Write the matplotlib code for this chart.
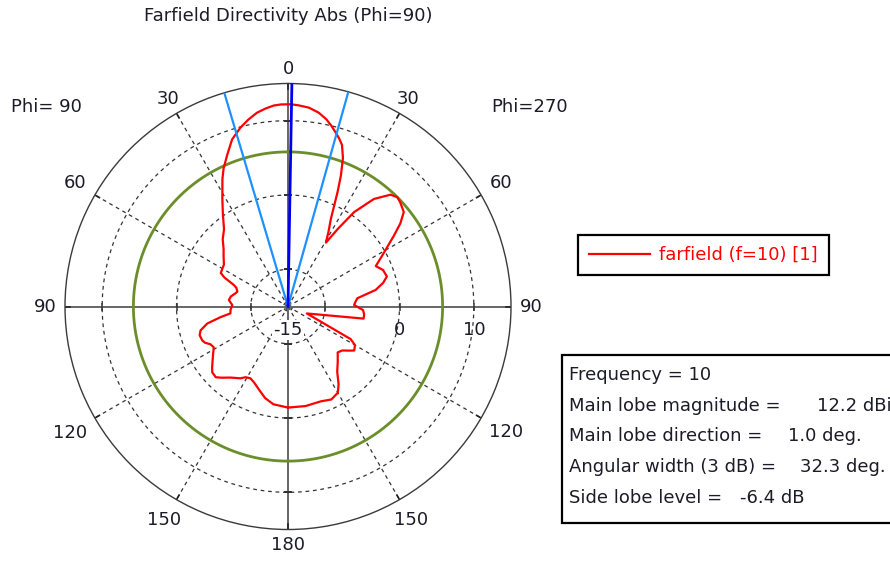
import numpy as np
import matplotlib
matplotlib.use("Agg")
import matplotlib.pyplot as plt
from matplotlib.lines import Line2D
from matplotlib.patches import Rectangle

# farfield cut, theta in degrees (negative = Phi=90 side, positive = Phi=270 side)
theta_deg = [
    -180, -171.5, -166, -161.8, -156, -152.3, -149, -146.4, -141, -137,
    -134.4, -131, -128.8, -124, -118.8, -116, -113.5, -111.6, -108, -105.3,
    -101.9, -99, -96.8, -93.5, -88.5, -83.7, -80, -76, -73.6, -70,
    -68.2, -65.5, -63.5, -60, -56.8, -52, -48.3, -44.2, -39.6, -35.2,
    -31.3, -27.2, -25, -21.8, -18.5, -14.9, -12, -9.1, -6.5, -4.1,
    -2, 0, 1, 3, 6, 9, 11.6, 13.5, 15.5, 17,
    18.5, 20.3, 22, 23.4, 26.1, 28.5, 30.7, 32.7, 35, 38.6,
    42.5, 45, 47.1, 50.8, 53.5, 56.3, 60.7, 65.3, 69, 73.1,
    76, 79.3, 83.2, 86, 88.7, 92.7, 96, 99.1, 110.3, 117.5,
    120, 123.6, 126, 129, 132.7, 138, 143, 147, 150, 155,
    161, 170, 180,
]
directivity_dbi = [
    -1.4, -1.7, -2.3, -3.0, -3.8, -4.1, -3.9, -3.4, -2.7, -1.9,
    -1.4, -1.5, -1.9, -2.8, -3.6, -3.4, -2.8, -2.6, -2.5, -2.8,
    -3.9, -5.8, -7.2, -7.25, -7.5, -7.0, -7.2, -7.7, -7.9, -7.6,
    -7.1, -5.6, -4.9, -4.8, -4.7, -4.0, -3.4, -2.4, -1.5, 0.2,
    2.0, 4.3, 5.5, 7.0, 8.7, 9.9, 10.7, 11.4, 11.8, 12.1,
    12.2, 12.2, 12.2, 12.1, 11.9, 11.4, 10.7, 10.0, 9.2, 8.6,
    7.9, 6.3, 4.0, 1.8, -1.9, -3.6, -5.0, -2.6, 0.5, 3.5,
    5.4, 5.8, 5.6, 5.1, 3.8, 2.1, -0.2, -2.0, -1.3, -1.1,
    -1.8, -3.0, -5.6, -5.9, -6.1, -4.9, -4.7, -4.7, -12.3, -5.5,
    -4.6, -4.3, -4.9, -5.6, -5.9, -5.0, -4.0, -2.5, -1.6, -1.2,
    -1.5, -1.4, -1.4,
]

frequency = 10
main_lobe_dbi = 12.2
main_lobe_dir = 1.0
angular_width = 32.3
side_lobe_level = -6.4
beam_left = -16.6
beam_edges = [beam_left, beam_left + angular_width]

r_min, r_max = -15, 15
grid_rings = [-10, 0, 10]
ring_labels = [-15, 0, 10]
theta_ticks = list(range(0, 360, 30))
theta_labels = [str(t if t <= 180 else 360 - t) for t in theta_ticks]
# distance of each angle label from the centre, in pixels
label_dist = [238, 240, 246, 243, 252, 247, 238, 247, 252, 243, 246, 240]

plt.rcParams['font.family'] = ['DejaVu Sans']
txt_col = '#1c1c28'
fs = 13

fig = plt.figure(figsize=(8.9, 5.62), dpi=100)
cx, cy, rad = 288, 306.5, 223
ax = fig.add_axes([(cx - rad) / 890, (562 - cy - rad) / 562, 2 * rad / 890, 2 * rad / 562],
                  projection='polar')
ax.set_theta_zero_location('N')
ax.set_theta_direction(-1)
ax.set_ylim(r_min, r_max)
ax.grid(False)
ax.set_yticks([])
ax.set_xticks([])
ax.spines['polar'].set_color('#3a3a3a')
ax.spines['polar'].set_linewidth(1.0)
px_per_db = rad / (r_max - r_min)

for t, lab, d in zip(theta_ticks, theta_labels, label_dist):
    ax.text(np.deg2rad(t), r_min + d / px_per_db, lab, ha='center', va='center',
            fontsize=fs, color=txt_col, clip_on=False)

full = np.linspace(0, 2 * np.pi, 721)
dash = (0, (3, 3))
# dashed rings
for ring in grid_rings + [-14.4]:
    ax.plot(full, np.full_like(full, ring), ls=dash, color='#333333', lw=0.9, zorder=1)

# radial dashed spokes and solid axes
for t in [30, 60, 120, 150, 210, 240, 300, 330]:
    ax.plot([np.deg2rad(t)] * 2, [r_min, r_max], ls=dash, color='#333333', lw=0.9, zorder=1)
for t in [0, 90, 180, 270]:
    ax.plot([np.deg2rad(t)] * 2, [r_min, r_max], color='#666666', lw=1.4, zorder=1)

# tick marks on the outer circle and on the axes
for t in theta_ticks:
    ax.plot([np.deg2rad(t)] * 2, [14.3, r_max], color='#222222', lw=1.2, zorder=2)
for t, mk in [(90, '|'), (270, '|'), (0, '_'), (180, '_')]:
    ax.plot([np.deg2rad(t)] * 3, grid_rings, ls='none', marker=mk, ms=6, mew=1.1,
            color='#333333', zorder=2)

# side lobe level ring
ax.plot(full, np.full_like(full, main_lobe_dbi + side_lobe_level), color='#6b8e2a', lw=2.0, zorder=3)

# pattern
ax.plot(np.deg2rad(theta_deg), directivity_dbi, color='#ff0000', lw=1.6, zorder=4)

# main lobe direction and 3 dB beam edges
for b in beam_edges:
    ax.plot([np.deg2rad(b)] * 2, [r_min, r_max], color='#1e90ff', lw=1.6, zorder=5)
ax.plot([np.deg2rad(main_lobe_dir)] * 2, [r_min, r_max], color='#0000ee', lw=2.0, zorder=6)

for v in ring_labels:
    ax.annotate(str(v), xy=(np.pi / 2, v), xytext=(0, -17), textcoords='offset points',
                ha='center', va='center', fontsize=fs, color=txt_col, annotation_clip=False,
                bbox=dict(boxstyle='square,pad=0.05', fc='white', ec='none') if v == r_min else None,
                zorder=7)

fig.text(cx / 890, 1 - 16 / 562, 'Farfield Directivity Abs (Phi=90)', ha='center', va='center',
         fontsize=fs, color=txt_col)
fig.text(46 / 890, 1 - 107 / 562, 'Phi= 90', ha='center', va='center', fontsize=fs, color=txt_col)
fig.text(530 / 890, 1 - 107 / 562, 'Phi=270', ha='center', va='center', fontsize=fs, color=txt_col)

leg = fig.legend(handles=[Line2D([], [], color='#ff0000', lw=1.6)], labels=['farfield (f=10) [1]'],
                 loc='upper left', bbox_to_anchor=(578 / 890, 1 - 235 / 562), borderaxespad=0,
                 fancybox=False, edgecolor='black', labelcolor='#ff0000', fontsize=fs,
                 handlelength=3.4, handletextpad=0.5, borderpad=0.6, framealpha=1)
leg.get_frame().set_linewidth(1.6)

box = Rectangle((562 / 890, 1 - 523 / 562), (900 - 562) / 890, (523 - 355) / 562,
                transform=fig.transFigure, facecolor='white', edgecolor='black', lw=1.6,
                clip_on=False)
fig.add_artist(box)
info = [
    ('Frequency = %d' % frequency, None, None),
    ('Main lobe magnitude =', '%.1f dBi' % main_lobe_dbi, 817),
    ('Main lobe direction =', '%.1f deg.' % main_lobe_dir, 788),
    ('Angular width (3 dB) =', '%.1f deg.' % angular_width, 800),
    ('Side lobe level =', '%.1f dB' % side_lobe_level, 740),
]
for i, (lab, val, vx) in enumerate(info):
    y = 1 - (375 + 30.7 * i) / 562
    fig.text(569 / 890, y, lab, ha='left', va='center', fontsize=fs, color=txt_col)
    if val:
        fig.text(vx / 890, y, val, ha='left', va='center', fontsize=fs, color=txt_col)

fig.savefig('out.png', dpi=100)
